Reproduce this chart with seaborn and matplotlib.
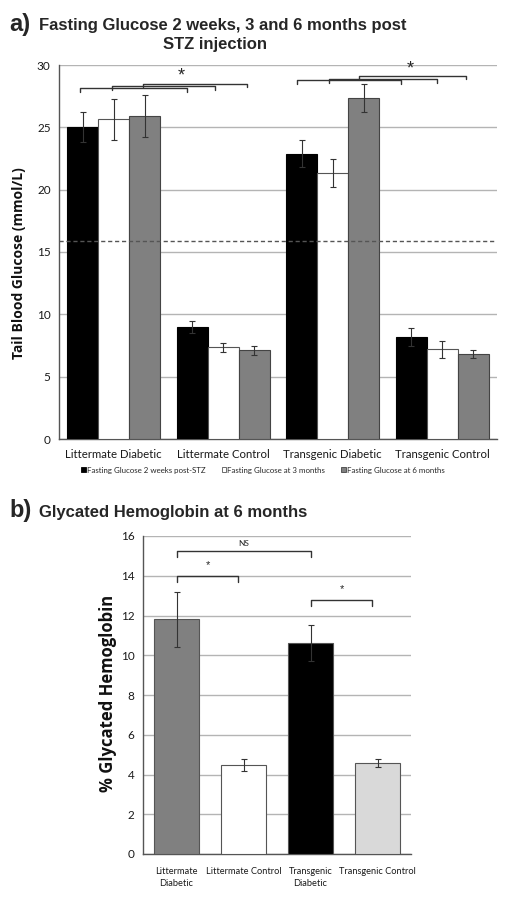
import numpy as np
import pandas as pd
import matplotlib
matplotlib.use("Agg")
import matplotlib.pyplot as plt
import seaborn as sns

# ---------------- data ----------------
groups_a = ["Littermate Diabetic", "Littermate Control", "Transgenic Diabetic", "Transgenic Control"]
series_a = ["Fasting Glucose 2 weeks post-STZ", "Fasting Glucose at 3 months", "Fasting Glucose at 6 months"]
glucose_2wk = [25.0, 9.0, 22.9, 8.2]
glucose_3mo = [25.65, 7.35, 21.35, 7.2]
glucose_6mo = [25.9, 7.1, 27.35, 6.85]
err_2wk = [1.2, 0.5, 1.05, 0.7]
err_3mo = [1.65, 0.35, 1.15, 0.68]
err_6mo = [1.7, 0.35, 1.1, 0.32]
threshold = 15.9
yticks_a = [0, 5, 10, 15, 20, 25, 30]

groups_b = ["Littermate\nDiabetic", "Littermate Control", "Transgenic\nDiabetic", "Transgenic Control"]
hba1c = [11.8, 4.5, 10.6, 4.6]
hba1c_err = [1.4, 0.3, 0.9, 0.2]
yticks_b = [0, 2, 4, 6, 8, 10, 12, 14, 16]

# ---------------- style ----------------
sns.set_style("white")
plt.rcParams["font.family"] = ["Lato", "DejaVu Sans"]

W, H = 507, 898
fig = plt.figure(figsize=(W / 100, H / 100), dpi=100)

def fx(px):
    return px / W

def fy(py):
    return 1 - py / H

colors_a = ["#000000", "#ffffff", "#808080"]
edges_a = ["#000000", "#555555", "#444444"]
grid_c = "#b4b4b4"
axis_c = "#555555"
txt_c = "#1a1a1a"

# ---------------- panel a ----------------
ax1 = fig.add_axes([fx(59), fy(439), fx(497 - 59), (439 - 65) / H])
df_a = pd.DataFrame({
    "group": groups_a * 3,
    "series": [series_a[0]] * 4 + [series_a[1]] * 4 + [series_a[2]] * 4,
    "value": glucose_2wk + glucose_3mo + glucose_6mo,
})
sns.barplot(data=df_a, x="group", y="value", hue="series", order=groups_a,
            hue_order=series_a, palette=colors_a, width=0.85, errorbar=None,
            saturation=1, ax=ax1, zorder=3, legend=False)
errs_a = [err_2wk, err_3mo, err_6mo]
conts_a = list(ax1.containers)
for k, cont in enumerate(conts_a):
    for j, bar in enumerate(list(cont)):
        bar.set_edgecolor(edges_a[k])
        bar.set_linewidth(0.8)
        cx = bar.get_x() + bar.get_width() / 2
        ax1.errorbar(cx, bar.get_height(), yerr=errs_a[k][j], color="#333333",
                     lw=0.8, capsize=2.5, capthick=0.8, zorder=4)

ax1.set_ylim(0, 30)
ax1.set_xlim(-0.5, 3.5)
ax1.set_yticks(yticks_a)
ax1.set_yticklabels([str(v) for v in yticks_a], fontsize=8.5, color=txt_c)
ax1.yaxis.grid(True, color=grid_c, lw=1)
ax1.set_axisbelow(True)
ax1.axhline(threshold, color="#555555", lw=1, ls=(0, (3, 2)), zorder=5)
ax1.set_xlabel("")
ax1.set_ylabel("")
ax1.set_xticks(range(4))
ax1.set_xticklabels(groups_a, fontsize=8.2, color=txt_c)
ax1.set_xticks([-0.5, 0.5, 1.5, 2.5, 3.5], minor=True)
ax1.tick_params(axis="x", which="major", length=0, pad=7)
ax1.tick_params(axis="x", which="minor", length=4, color=axis_c, width=1)
ax1.tick_params(axis="y", length=4, color=axis_c, width=1, pad=2)
for s in ["top", "right"]:
    ax1.spines[s].set_visible(False)
for s in ["left", "bottom"]:
    ax1.spines[s].set_color(axis_c)
    ax1.spines[s].set_linewidth(1)

def bracket(ax, x0, x1, ytop, drop, lw=1.0):
    ax.plot([x0, x0, x1, x1], [ytop - drop, ytop, ytop, ytop - drop],
            color="#333333", lw=lw, zorder=6, clip_on=False)

for x0, x1, yt in [(-0.308, 0.669, 28.12), (-0.016, 0.925, 28.3), (0.267, 1.217, 28.48)]:
    bracket(ax1, x0, x1, yt, 0.28)
for x0, x1, yt in [(1.676, 2.623, 28.79), (1.966, 2.949, 28.87), (2.24, 3.214, 29.13)]:
    bracket(ax1, x0, x1, yt, 0.28)
ax1.text(0.614, 28.45, "*", ha="center", va="bottom", fontsize=13, family="Liberation Sans")
ax1.text(2.71, 29.0, "*", ha="center", va="bottom", fontsize=13, family="Liberation Sans")

handles = [plt.Rectangle((0, 0), 1, 1, facecolor=colors_a[i], edgecolor=edges_a[i], lw=0.6)
           for i in range(3)]
fig.legend(handles, series_a, loc="center", bbox_to_anchor=(fx(263), fy(470)), ncol=3,
           frameon=False, fontsize=5.7, handlelength=0.6, handleheight=0.6,
           handletextpad=0.15, columnspacing=2.0, borderaxespad=0)

fig.text(fx(19), fy(263), "Tail Blood Glucose (mmol/L)", rotation=90, ha="center",
         va="center", fontsize=10, fontweight="bold", color="#111111", family="Open Sans")
fig.text(fx(9), fy(31), "a)", fontsize=17, fontweight="bold", family="Liberation Sans",
         ha="left", va="baseline")
fig.text(fx(39), fy(30), "Fasting Glucose 2 weeks, 3 and 6 months post", fontsize=12,
         fontweight="bold", family="Liberation Sans", ha="left", va="baseline")
fig.text(fx(215), fy(49), "STZ injection", fontsize=12, fontweight="bold",
         family="Liberation Sans", ha="center", va="baseline")

# ---------------- panel b ----------------
ax2 = fig.add_axes([fx(143), fy(854), fx(411 - 143), (854 - 536) / H])
df_b = pd.DataFrame({"group": groups_b, "value": hba1c})
colors_b = ["#808080", "#ffffff", "#000000", "#d9d9d9"]
sns.barplot(data=df_b, x="group", y="value", hue="group", palette=colors_b, order=groups_b,
            width=0.67, errorbar=None, saturation=1, ax=ax2, zorder=3, legend=False)
bars_b = [b for c in list(ax2.containers) for b in c]
bars_b.sort(key=lambda b: b.get_x())
for j, bar in enumerate(bars_b):
    bar.set_edgecolor("#555555")
    bar.set_linewidth(0.8)
    cx = bar.get_x() + bar.get_width() / 2
    ax2.errorbar(cx, bar.get_height(), yerr=hba1c_err[j], color="#333333",
                 lw=0.8, capsize=2, capthick=0.8, zorder=4)
ax2.set_ylim(0, 16)
ax2.set_xlim(-0.5, 3.5)
ax2.set_yticks(yticks_b)
ax2.set_yticklabels([str(v) for v in yticks_b], fontsize=8.5, color=txt_c)
ax2.yaxis.grid(True, color=grid_c, lw=1)
ax2.set_axisbelow(True)
ax2.set_xlabel("")
ax2.set_ylabel("")
ax2.set_xticks(range(4))
ax2.set_xticklabels(groups_b, fontsize=6.7, color=txt_c, linespacing=1.45)
ax2.set_xticks([-0.5, 0.5, 1.5, 2.5, 3.5], minor=True)
ax2.tick_params(axis="x", which="major", length=0, pad=9)
ax2.tick_params(axis="x", which="minor", length=4, color=axis_c, width=1)
ax2.tick_params(axis="y", length=4, color=axis_c, width=1, pad=2)
for s in ["top", "right"]:
    ax2.spines[s].set_visible(False)
for s in ["left", "bottom"]:
    ax2.spines[s].set_color(axis_c)
    ax2.spines[s].set_linewidth(1)

bracket(ax2, 0.0, 2.0, 15.25, 0.3)
ax2.text(1.0, 15.45, "NS", ha="center", va="bottom", fontsize=6)
bracket(ax2, 0.0, 0.913, 13.99, 0.3)
ax2.text(0.466, 14.3, "*", ha="center", va="bottom", fontsize=8, family="Liberation Sans")
bracket(ax2, 2.0, 2.92, 12.78, 0.3)
ax2.text(2.466, 13.1, "*", ha="center", va="bottom", fontsize=8, family="Liberation Sans")

fig.text(fx(108), fy(693), "% Glycated Hemoglobin", rotation=90, ha="center",
         va="center", fontsize=12, fontweight="bold", color="#111111", family="Open Sans")
fig.text(fx(9), fy(517), "b)", fontsize=17, fontweight="bold", family="Liberation Sans",
         ha="left", va="baseline")
fig.text(fx(39), fy(517), "Glycated Hemoglobin at 6 months", fontsize=12,
         fontweight="bold", family="Liberation Sans", ha="left", va="baseline")

fig.savefig("out.png", dpi=100, facecolor="white")
